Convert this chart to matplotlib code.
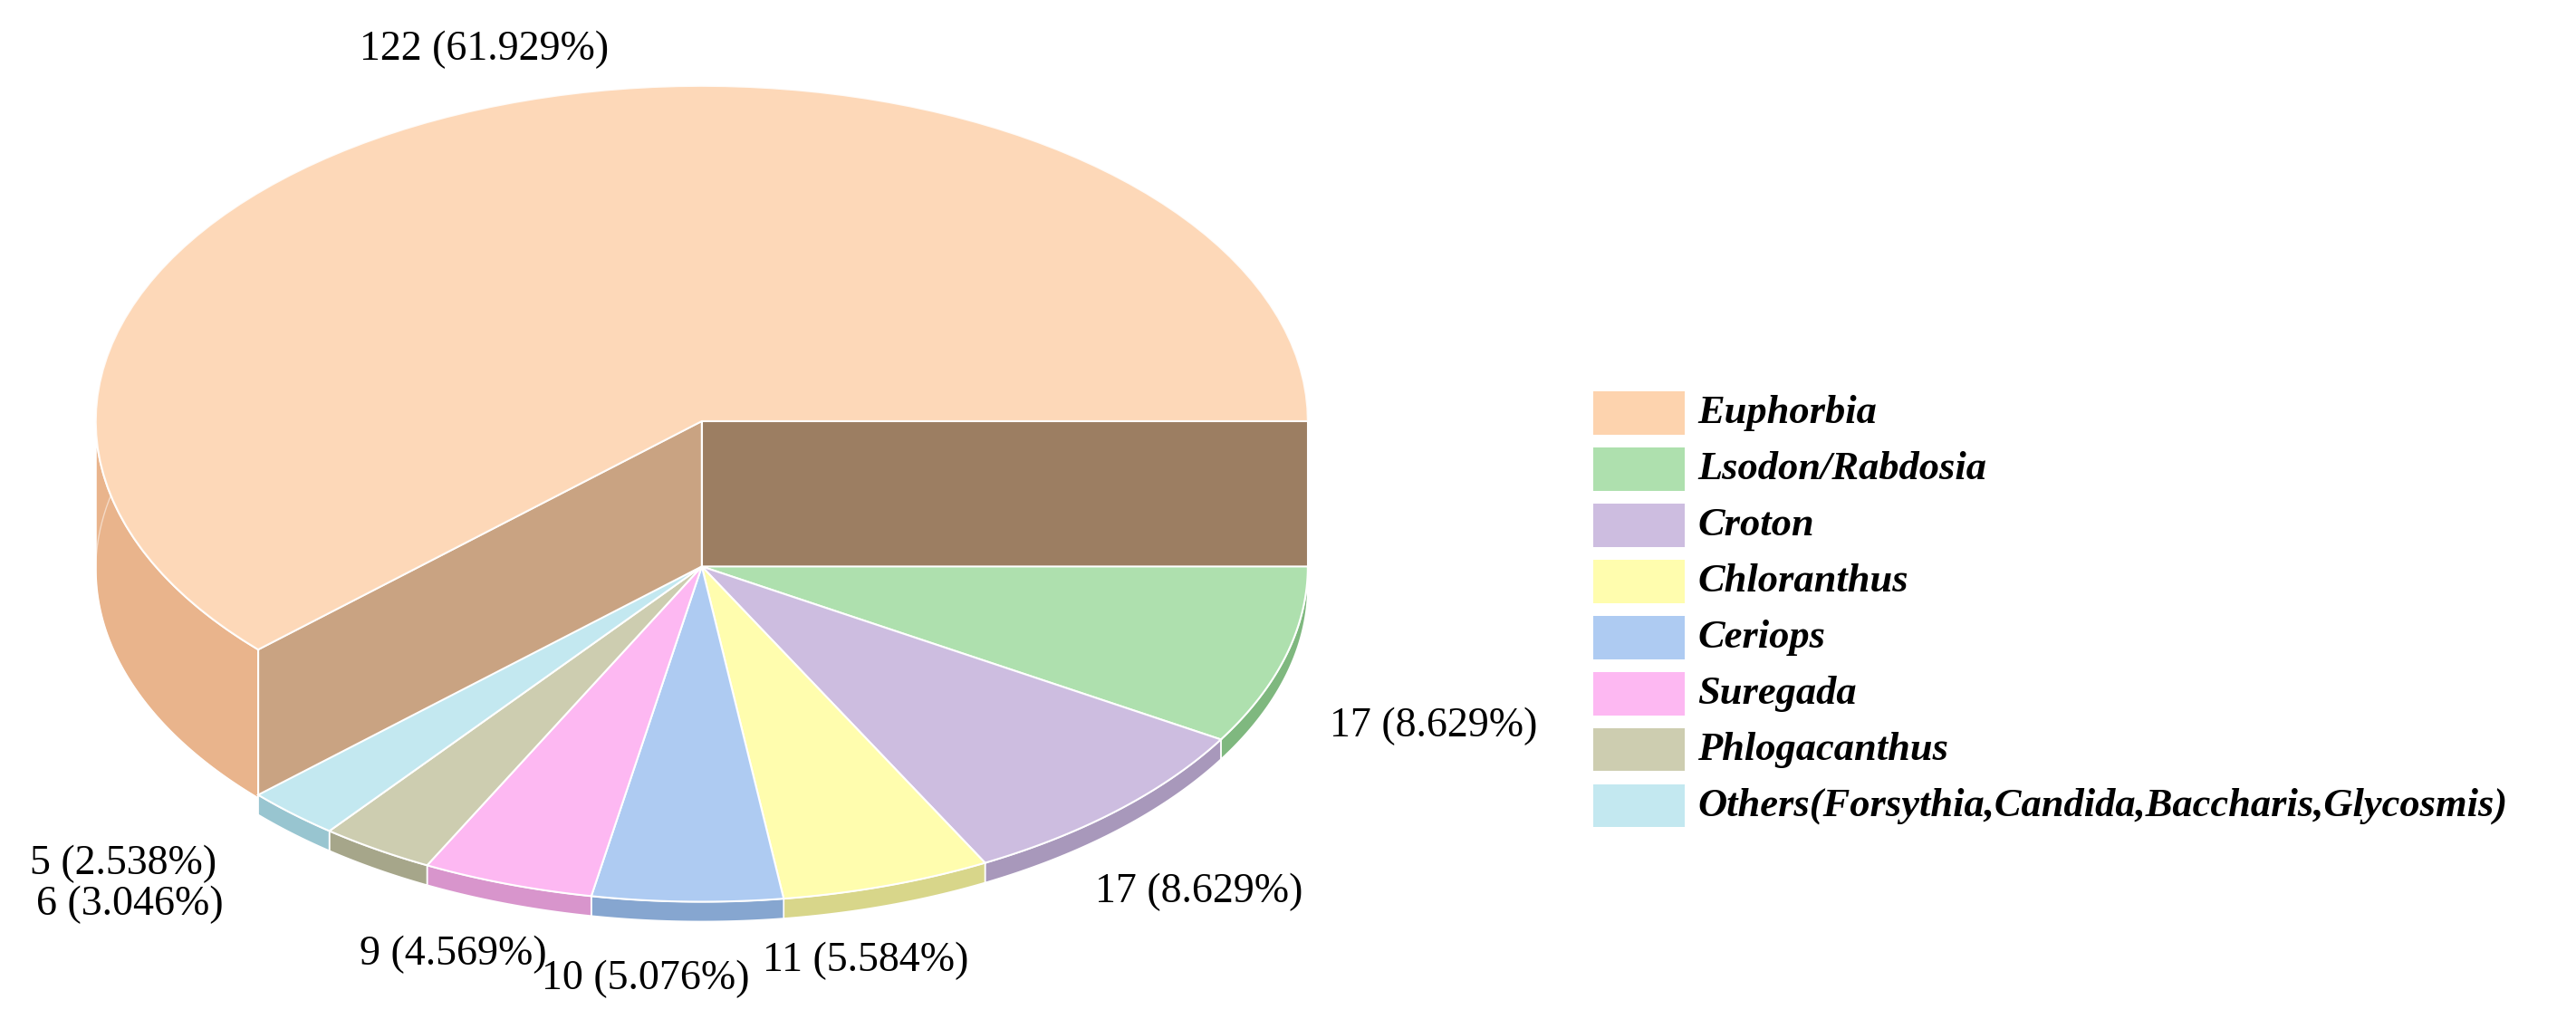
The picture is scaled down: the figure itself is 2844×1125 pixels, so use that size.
import numpy as np
import matplotlib.pyplot as plt
from matplotlib.patches import Polygon, Rectangle

names = ["Euphorbia", "Lsodon/Rabdosia", "Croton", "Chloranthus", "Ceriops",
         "Suregada", "Phlogacanthus", "Others(Forsythia,Candida,Baccharis,Glycosmis)"]
values = [122, 17, 17, 11, 10, 9, 6, 5]
labels = ["122 (61.929%)", "17 (8.629%)", "17 (8.629%)", "11 (5.584%)", "10 (5.076%)",
          "9 (4.569%)", "6 (3.046%)", "5 (2.538%)"]
tops = ["#FDD3AE", "#AEE0AE", "#CDBDE0", "#FFFDAE", "#AECBF2", "#FDB8F2", "#CDCDB0", "#C3E8F0"]
walls = ["#E9B48C", "#7FB87F", "#A898BB", "#D8D68A", "#86A6D0", "#D895CC", "#A6A68A", "#98C5D0"]

fig = plt.figure(figsize=(28.44, 11.25), dpi=100)
ax = fig.add_axes([0, 0, 1, 1])
ax.set_xlim(0, 1560); ax.set_ylim(617, 0); ax.axis("off")

cx, rx, ry = 425, 367, 203
total = sum(values)

def pt(t, cy):
    r = np.radians(t)
    return cx + rx*np.cos(r), cy - ry*np.sin(r)

def arc(a, b, cy, n=100):
    ts = np.linspace(a, b, n)
    return [pt(t, cy) for t in ts]

spans = {}
cursor = 360.0
for i in range(1, len(values)):
    a1 = cursor - values[i]/total*360
    spans[i] = (a1, cursor)
    cursor = a1
e0, e1 = 0.0, values[0]/total*360

# Euphorbia (tall)
cyT, dT = 255, 90
p_edge = pt(e1, cyT)
ax.add_patch(Polygon([(cx, cyT), (cx+rx, cyT), (cx+rx, cyT+dT), (cx, cyT+dT)],
                     fc="#9C7E62", ec="white", lw=1.5))
ax.add_patch(Polygon([(cx, cyT), p_edge, (p_edge[0], p_edge[1]+dT), (cx, cyT+dT)],
                     fc="#C9A382", ec="white", lw=1.5))
top_arc = arc(180, e1, cyT)
bot_arc = [(x, y+dT) for x, y in arc(180, e1, cyT)][::-1]
ax.add_patch(Polygon(top_arc + bot_arc, fc=walls[0], ec="white", lw=1.5))
ax.add_patch(Polygon([(x, y+dT) for x, y in arc(90, e1, cyT)], closed=False,
                     fc="none", ec="white", lw=1.0, alpha=0.5))
ax.add_patch(Polygon([(cx, cyT)] + arc(e0, e1, cyT), fc=tops[0], ec="white", lw=1.5, alpha=0.88))

# small slices (thin, lower)
cyS, dS = 343, 12
for i in range(1, len(values)):
    a, b = spans[i]
    ta = arc(a, b, cyS)
    ax.add_patch(Polygon(ta + [(x, y+dS) for x, y in ta][::-1], fc=walls[i], ec="white", lw=1.2))
    ax.add_patch(Polygon([(cx, cyS)] + ta, fc=tops[i], ec="white", lw=1.5))

fs = 33
lpos = [(218, 30), (805, 440), (663, 540), (462, 582), (328, 593), (218, 578), (22, 548), (18, 523)]
for (x, y), s in zip(lpos, labels):
    ax.text(x, y, s, fontsize=fs, family="Liberation Serif", va="center", ha="left")

ly = [250, 284, 318, 352, 386, 420, 454, 488]
for i, y in enumerate(ly):
    ax.add_patch(Rectangle((965, y-13), 55, 26, fc=tops[i], ec="none"))
    ax.text(1028, y, names[i], fontsize=32, family="Liberation Serif",
            style="italic", weight="bold", va="center", ha="left")

fig.savefig("out.png", dpi=100)
